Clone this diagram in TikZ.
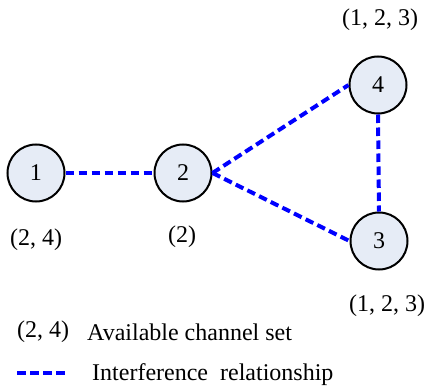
\documentclass[tikz,border=0pt]{standalone}
\usepackage{fontspec}
\setmainfont{Liberation Serif}
\definecolor{nodefill}{RGB}{230,236,246}
\definecolor{linkblue}{RGB}{0,0,255}
\begin{document}
\begin{tikzpicture}[x=1pt,y=1pt,
  every node/.style={font=\fontsize{24}{28}\selectfont, inner sep=0pt},
  vertex/.style={circle, draw=black, line width=2pt, fill=nodefill, minimum size=57pt},
  link/.style={draw=linkblue, line width=4pt, dash pattern=on 8.5pt off 4.5pt},
  lbl/.style={}]
\useasboundingbox (0,0) rectangle (426,389);
% vertices
\node[vertex] (n1) at (36,216) {1};
\node[vertex] (n2) at (183,216) {2};
\node[vertex] (n4) at (378,304) {4};
\node[vertex] (n3) at (379,148) {3};
% channel sets
\node[lbl] (c4) at (380,369) {(1, 2, 3)};
\node[lbl] (c1) at (36,149) {(2, 4)};
\node[lbl] (c2) at (182,152) {(2)};
\node[lbl] (c3) at (387,83) {(1, 2, 3)};
% links
\draw[link] (n1.east) -- (n2.west);
\draw[link] (n2.east) -- (n4.west);
\draw[link] (n2.east) -- (n3.west);
\draw[link] (n4.south) -- (n3.north);
% legend
\node[lbl, anchor=west] (k1) at (17,57) {(2, 4)};
\node[lbl, anchor=west] (t1) at (87,57) {Available channel set};
\coordinate (ka) at (17,16);
\coordinate (kb) at (66,16);
\draw[link] (ka) -- (kb);
\node[lbl, anchor=west] (t2) at (92,14) {Interference\ \ relationship};
\end{tikzpicture}
\end{document}
